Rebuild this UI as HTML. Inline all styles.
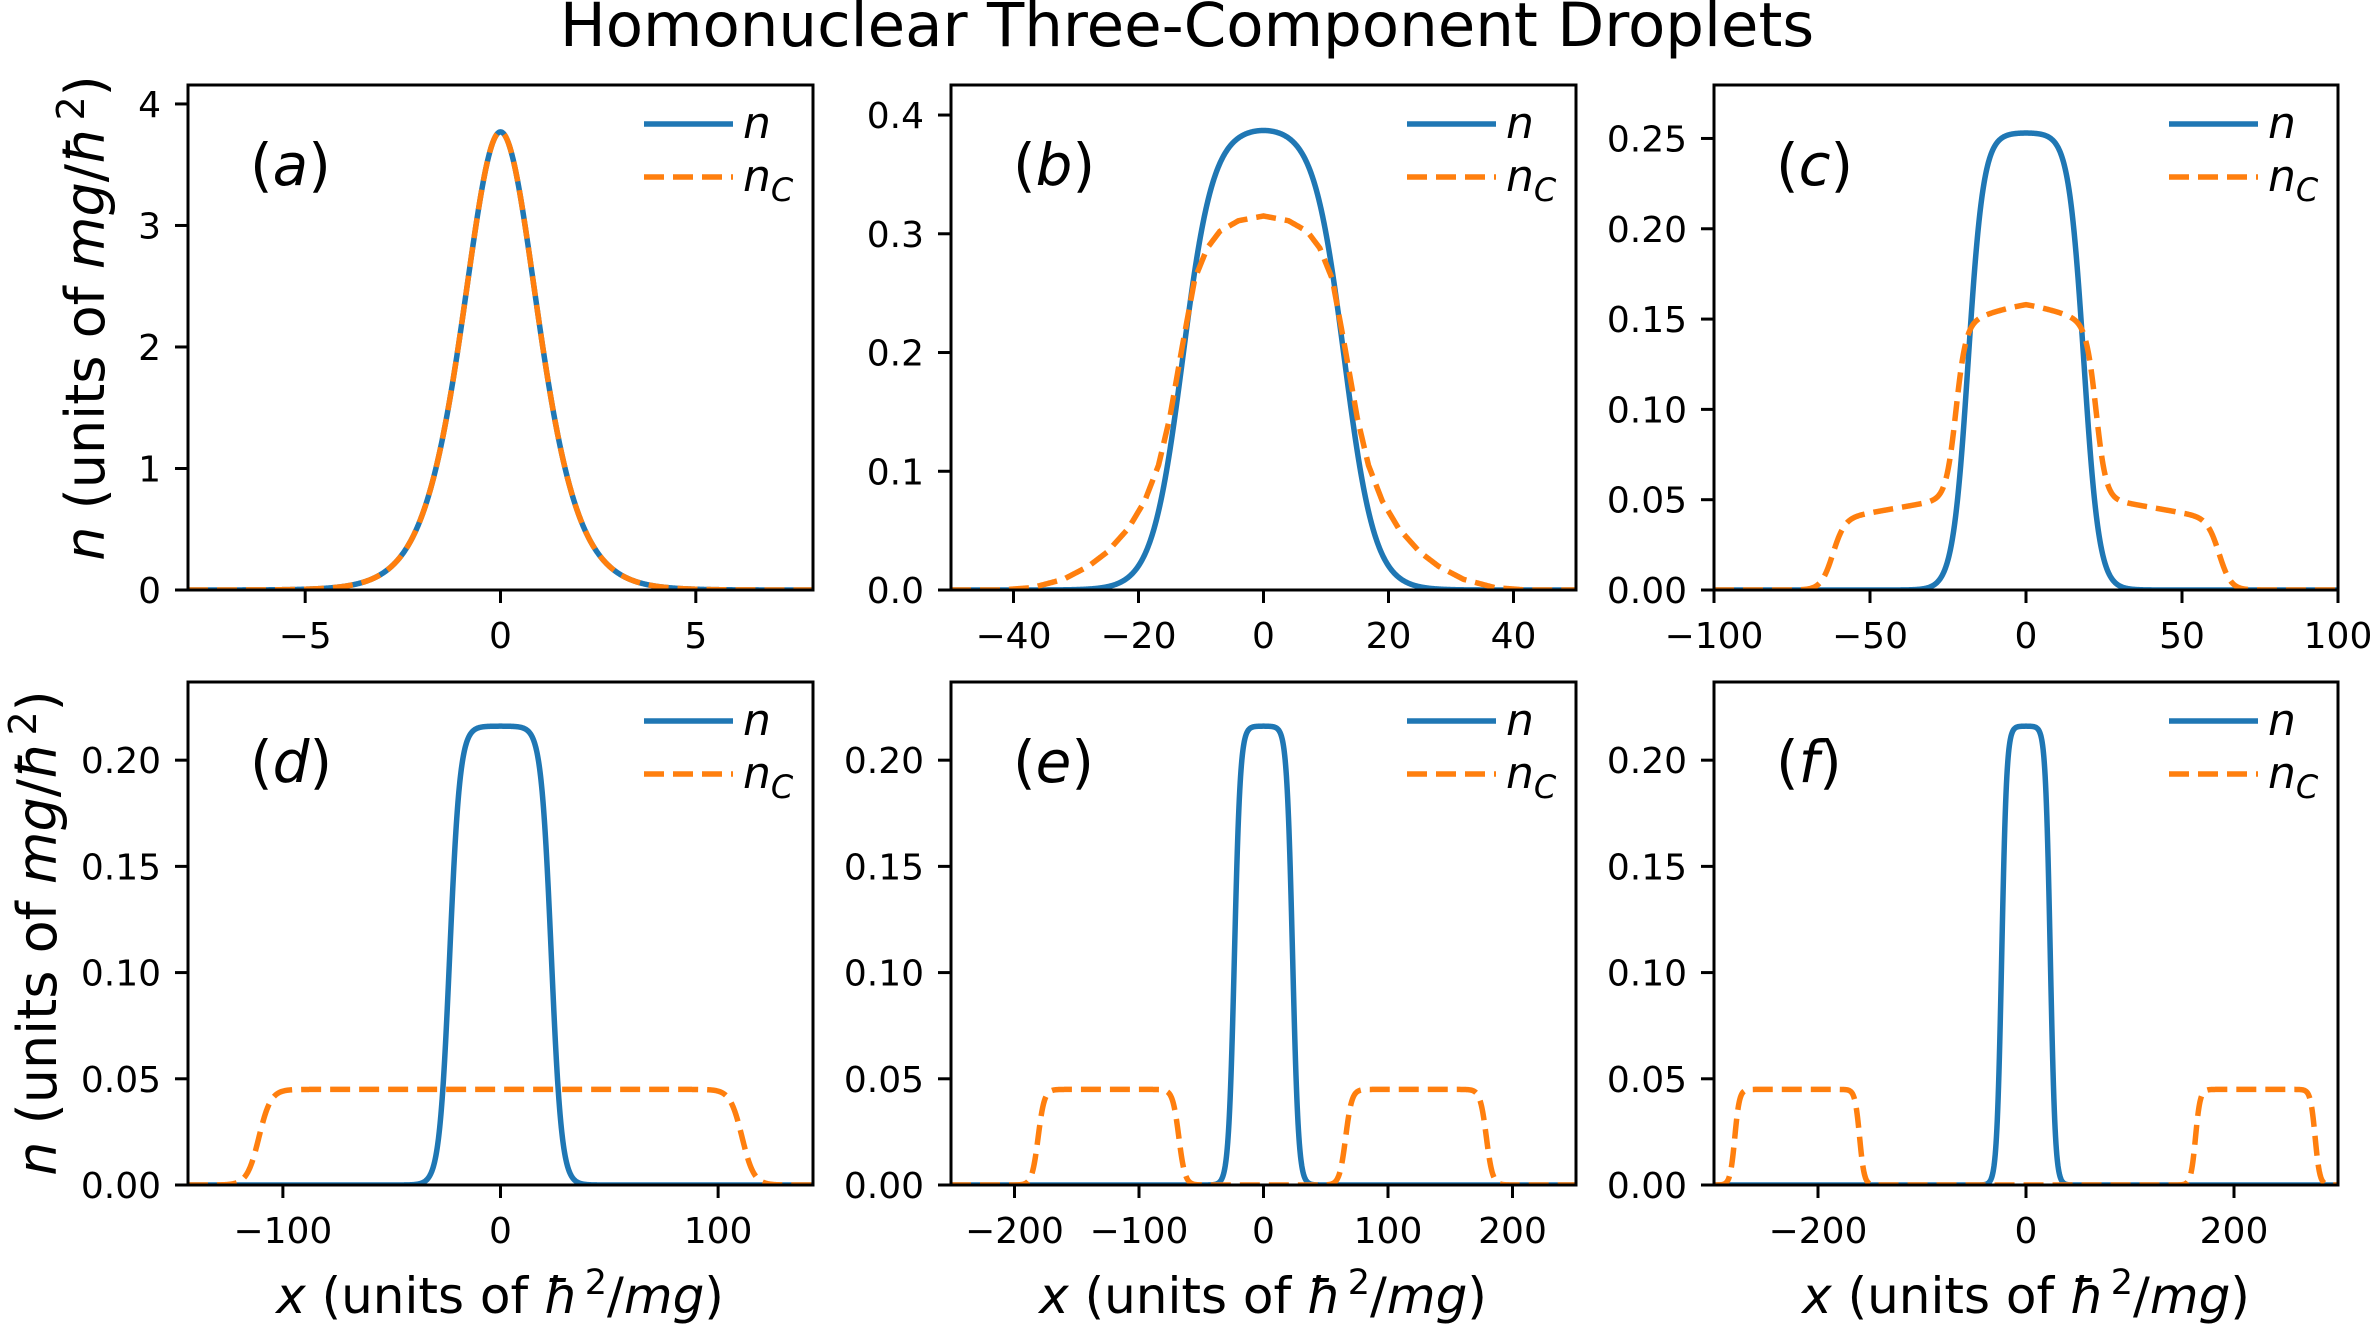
<!DOCTYPE html>
<html><head><meta charset="utf-8">
<style>
html,body{margin:0;padding:0;background:#fff;}
svg{display:block;}
text{font-family:"DejaVu Sans","Liberation Sans",sans-serif;fill:#000;}
</style></head>
<body>
<svg id="s" xmlns="http://www.w3.org/2000/svg" width="2373" height="1324" viewBox="0 0 2373 1324">
<rect width="2373" height="1324" fill="#fff"/>
<text x="1187" y="46" font-size="61" text-anchor="middle">Homonuclear Three-Component Droplets</text>
<text transform="translate(104,318) rotate(-90)" font-size="54" text-anchor="middle"><tspan font-style="italic">n</tspan> (units of <tspan font-style="italic">mg</tspan>/<tspan font-style="italic">ħ</tspan><tspan font-size="38" dy="-20" dx="6">2</tspan><tspan dy="20">)</tspan></text>
<text transform="translate(56,933) rotate(-90)" font-size="54" text-anchor="middle"><tspan font-style="italic">n</tspan> (units of <tspan font-style="italic">mg</tspan>/<tspan font-style="italic">ħ</tspan><tspan font-size="38" dy="-20" dx="6">2</tspan><tspan dy="20">)</tspan></text>
<text x="500" y="1313" font-size="50" text-anchor="middle"><tspan font-style="italic">x</tspan> (units of <tspan font-style="italic">ħ</tspan><tspan font-size="35" dy="-19" dx="6">2</tspan><tspan dy="19">/</tspan><tspan font-style="italic">mg</tspan>)</text>
<text x="1263" y="1313" font-size="50" text-anchor="middle"><tspan font-style="italic">x</tspan> (units of <tspan font-style="italic">ħ</tspan><tspan font-size="35" dy="-19" dx="6">2</tspan><tspan dy="19">/</tspan><tspan font-style="italic">mg</tspan>)</text>
<text x="2026" y="1313" font-size="50" text-anchor="middle"><tspan font-style="italic">x</tspan> (units of <tspan font-style="italic">ħ</tspan><tspan font-size="35" dy="-19" dx="6">2</tspan><tspan dy="19">/</tspan><tspan font-style="italic">mg</tspan>)</text>
<g id="g"></g>
</svg>
<script>
(function(){
var NS="http://www.w3.org/2000/svg",g=document.getElementById('g');
function el(t,a,txt){var e=document.createElementNS(NS,t);for(var k in a)e.setAttribute(k,a[k]);if(txt!==undefined)e.textContent=txt;g.appendChild(e);return e;}
function drop(p,b,k){return function(x){return p*(1+b)/(1+b*Math.cosh(k*x));};}
function E(x,a,c,w){return 0.5*(Math.tanh((x-a)/w)-Math.tanh((x-c)/w));}
function interp(pts){return function(x){x=Math.abs(x);for(var i=0;i<pts.length-1;i++){if(x<=pts[i+1][0]){var t=(x-pts[i][0])/(pts[i+1][0]-pts[i][0]);return pts[i][1]+t*(pts[i+1][1]-pts[i][1]);}}return 0;};}
var sech2=function(x){var c=Math.cosh(x/1.29);return 3.77/(c*c);};
var bC=interp([[0,0.315],[4,0.311],[7,0.302],[9,0.288],[11,0.262],[13,0.205],[15,0.145],[16.8,0.105],[19,0.075],[21.6,0.052],[25,0.032],[28,0.02],[32,0.009],[37,0.002],[42,0],[60,0]]);
var P=[
{l:188,t:85,r:813,b:590,x0:-8,x1:8,y1:4.156,xt:[-5,0,5],xl:["−5","0","5"],yt:[0,1,2,3,4],yl:["0","1","2","3","4"],lab:"a",n:sech2,c:sech2},
{l:951,t:85,r:1576,b:590,x0:-50,x1:50,y1:0.4253,xt:[-40,-20,0,20,40],xl:["−40","−20","0","20","40"],yt:[0,.1,.2,.3,.4],yl:["0.0","0.1","0.2","0.3","0.4"],lab:"b",n:drop(0.387,0.01,0.41),c:bC},
{l:1714,t:85,r:2338,b:590,x0:-100,x1:100,y1:0.2796,xt:[-100,-50,0,50,100],xl:["−100","−50","0","50","100"],yt:[0,.05,.1,.15,.2,.25],yl:["0.00","0.05","0.10","0.15","0.20","0.25"],lab:"c",n:drop(0.253,0.001,0.41),c:function(x){var a=Math.abs(x);return 0.100*E(x,-22.5,22.5,3.2)*(1-0.0004*a*a/4)+0.058*(1-a/190)*E(x,-62,62,3.8);}},
{l:188,t:682,r:813,b:1185,x0:-143.6,x1:143.6,y1:0.2368,xt:[-100,0,100],xl:["−100","0","100"],yt:[0,.05,.1,.15,.2],yl:["0.00","0.05","0.10","0.15","0.20"],lab:"d",n:drop(0.216,1e-4,0.424),c:function(x){return 0.045*E(x,-111,111,5.5);}},
{l:951,t:682,r:1576,b:1185,x0:-251,x1:251,y1:0.2368,xt:[-200,-100,0,100,200],xl:["−200","−100","0","100","200"],yt:[0,.05,.1,.15,.2],yl:["0.00","0.05","0.10","0.15","0.20"],lab:"e",n:drop(0.216,1e-4,0.424),c:function(x){return 0.045*(E(x,-181,-68,5)+E(x,66,179,5));}},
{l:1714,t:682,r:2338,b:1185,x0:-300,x1:300,y1:0.2368,xt:[-200,0,200],xl:["−200","0","200"],yt:[0,.05,.1,.15,.2],yl:["0.00","0.05","0.10","0.15","0.20"],lab:"f",n:drop(0.216,1e-4,0.424),c:function(x){return 0.045*(E(x,-280,-160,4.5)+E(x,163,278,4.5));}}
];
P.forEach(function(p){
 var sx=function(x){return p.l+(x-p.x0)/(p.x1-p.x0)*(p.r-p.l);};
 var sy=function(y){return p.b-y/p.y1*(p.b-p.t);};
 function path(f){var d="",N=1500;for(var i=0;i<=N;i++){var x=p.x0+(p.x1-p.x0)*i/N;d+=(i?"L":"M")+sx(x).toFixed(2)+","+sy(f(x)).toFixed(2);}return d;}
 var cp="cp"+p.lab;
 var cl=el('clipPath',{id:cp});var rr=document.createElementNS(NS,'rect');rr.setAttribute('x',p.l);rr.setAttribute('y',p.t);rr.setAttribute('width',p.r-p.l);rr.setAttribute('height',p.b-p.t);cl.appendChild(rr);
 el('path',{d:path(p.n),fill:"none",stroke:"#1f77b4","stroke-width":5.5,"clip-path":"url(#"+cp+")"});
 el('path',{d:path(p.c),fill:"none",stroke:"#ff7f0e","stroke-width":5.5,"stroke-dasharray":"20,9","clip-path":"url(#"+cp+")"});
 el('rect',{x:p.l,y:p.t,width:p.r-p.l,height:p.b-p.t,fill:"none",stroke:"#000","stroke-width":3});
 p.xt.forEach(function(v,i){var X=sx(v);el('line',{x1:X,y1:p.b,x2:X,y2:p.b+13,stroke:"#000","stroke-width":3});el('text',{x:X,y:p.b+58,"font-size":36,"text-anchor":"middle"},p.xl[i]);});
 p.yt.forEach(function(v,i){var Y=sy(v);el('line',{x1:p.l,y1:Y,x2:p.l-13,y2:Y,stroke:"#000","stroke-width":3});el('text',{x:p.l-27,y:Y+13,"font-size":36,"text-anchor":"end"},p.yl[i]);});
 var t=el('text',{x:p.l+62,y:p.t+100,"font-size":58});
 t.innerHTML='(<tspan font-style="italic">'+p.lab+'</tspan>)';
 el('line',{x1:p.r-169,y1:p.t+39,x2:p.r-80,y2:p.t+39,stroke:"#1f77b4","stroke-width":5.5});
 el('line',{x1:p.r-169,y1:p.t+92,x2:p.r-80,y2:p.t+92,stroke:"#ff7f0e","stroke-width":5.5,"stroke-dasharray":"20,9"});
 el('text',{x:p.r-70,y:p.t+53,"font-size":44,"font-style":"italic"},"n");
 var t2=el('text',{x:p.r-70,y:p.t+106,"font-size":44,"font-style":"italic"});
 t2.innerHTML='n<tspan font-size="32" dy="10">C</tspan>';
});
})();
</script>
</body></html>
